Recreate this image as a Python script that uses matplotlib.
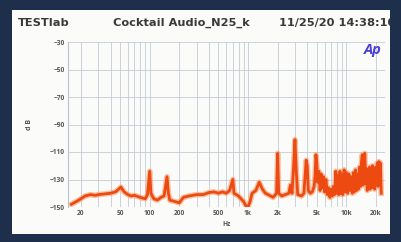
import matplotlib
matplotlib.use("Agg")
import matplotlib.pyplot as plt
from matplotlib.patches import Rectangle
from matplotlib.ticker import FixedLocator, NullFormatter

plt.rcParams['font.family'] = ['Open Sans', 'DejaVu Sans']

# FFT noise spectrum (Hz, dB)
freq = [16, 18, 20, 22, 25, 28, 30, 35, 40, 45, 51, 55, 60, 65, 70, 80, 90, 95,
        100, 103, 110, 120, 130, 140, 150, 155, 160, 180, 200, 220, 250, 300,
        350, 400, 450, 500, 550, 600, 650, 700, 720, 800, 900, 950, 1000, 1050,
        1100, 1200, 1300, 1400, 1500, 1600, 1800, 1950, 2000, 2050, 2200, 2400,
        2600, 2700, 2800, 2900, 3000, 3100, 3200, 3500, 3700, 3900, 4000, 4100,
        4300, 4500, 4700, 4800, 4900, 5000, 5100, 5250, 5400, 5550, 5700, 5850,
        6000, 6200, 6400, 6600, 6800, 7000, 7200, 7400, 7600, 7800, 8000, 8200,
        8400, 8600, 8800, 9000, 9200, 9500, 9800, 10000, 10300, 10600, 10900,
        11200, 11500, 11800, 12100, 12400, 12700, 13000, 13300, 13600, 13900,
        14200, 14500, 14800, 15100, 15400, 15700, 16000, 16300, 16600, 16900,
        17200, 17500, 17800, 18100, 18400, 18700, 19000, 19400, 19800, 20200,
        20600, 21000, 21400, 21800, 22200, 22600]
level = [-148, -146, -144, -142, -141, -141.5, -141, -140.5, -140, -139, -135.5,
         -139, -141, -142, -141.5, -143, -144, -141, -124, -140, -144, -145,
         -143, -142, -128, -140, -145, -146, -147, -143, -142, -141, -141,
         -139.5, -139, -140, -139, -140, -138, -130, -140, -142, -146, -149,
         -150, -146, -140, -138, -132, -137, -140, -141, -143, -140, -111,
         -140, -142, -141, -140, -134, -140, -122, -101, -125, -141, -142,
         -140, -116, -120, -138, -140, -139, -135, -128, -112, -118, -132,
         -124, -138, -126, -136, -128, -139, -130, -141, -136, -143, -137,
         -142, -135, -141, -124, -140, -127, -141, -124, -140, -126, -141,
         -123, -139, -125, -140, -126, -138, -128, -140, -125, -139, -123,
         -138, -126, -137, -121, -135, -118, -112, -134, -113, -111, -133,
         -122, -138, -124, -136, -121, -137, -122, -135, -120, -136, -124,
         -137, -121, -134, -118, -135, -117, -130, -118, -140]

y_ticks = [-30, -50, -70, -90, -110, -130, -150]
x_ticks = [20, 50, 100, 200, 500, 1000, 2000, 5000, 10000, 20000]
x_labels = ['20', '50', '100', '200', '500', '1k', '2k', '5k', '10k', '20k']

fig = plt.figure(figsize=(4.02, 2.42), dpi=100)
fig.patch.set_facecolor('#1e2f4b')
panel = Rectangle((12 / 402, 8 / 242), 378 / 402, 224 / 242, transform=fig.transFigure,
                  facecolor='#fbfbfa', edgecolor='none', zorder=-10)
fig.patches.append(panel)

ax = fig.add_axes([67.5 / 402, 35 / 242, 317.5 / 402, 165 / 242])
ax.set_facecolor('#fbfbfa')
ax.set_xscale('log')
ax.set_xlim(14.6, 24700)
ax.set_ylim(-150, -30)

# grid lines on every log minor position
grid_x = [m * 10 ** d for d in range(1, 5) for m in range(1, 10) if 15 <= m * 10 ** d <= 24000]
ax.xaxis.set_major_locator(FixedLocator(x_ticks))
ax.xaxis.set_minor_locator(FixedLocator(grid_x))
ax.xaxis.set_minor_formatter(NullFormatter())
ax.set_xticklabels(x_labels)
ax.set_yticks(y_ticks)
ax.grid(True, which='both', axis='x', color='#c3ccd6', lw=0.6)
ax.grid(True, which='major', axis='y', color='#c3ccd6', lw=0.6)
ax.tick_params(which='both', length=0, labelsize=4.8, colors='#555555', pad=2)
for lab in ax.get_xticklabels() + ax.get_yticklabels():
    lab.set_fontweight('bold')
for s in ax.spines.values():
    s.set_visible(False)
ax.spines['left'].set_visible(True)
ax.spines['left'].set_color('#b9c3cf')

ax.plot(freq, level, color='#f79a68', lw=4.0, alpha=0.6, solid_joinstyle='round')
ax.plot(freq, level, color='#ec4a10', lw=2.0, solid_joinstyle='round')

ax.set_xlabel('Hz', fontsize=4.8, color='#555555', labelpad=3, fontweight='bold')
ax.set_ylabel('d B', fontsize=5, color='#555555', labelpad=12, fontweight='bold')

title_font = dict(fontsize=8.2, fontweight='bold', color='#3a3a3a', va='center',
                  family='DejaVu Sans')
fig.text(18 / 402, 1 - 23 / 242, 'TESTlab', ha='left', **title_font)
fig.text(181 / 402, 1 - 23 / 242, 'Cocktail Audio_N25_k', ha='center', **title_font)
t = fig.text(279 / 402, 1 - 23 / 242, '11/25/20 14:38:10', ha='left', **title_font)
t.set_clip_path(panel)
fig.text(373 / 402, 1 - 50 / 242, 'Ap', fontsize=10.5, fontweight='bold', style='italic',
         color='#4a3fd8', va='center', ha='center')

fig.savefig('out.png', dpi=100, facecolor=fig.get_facecolor())
